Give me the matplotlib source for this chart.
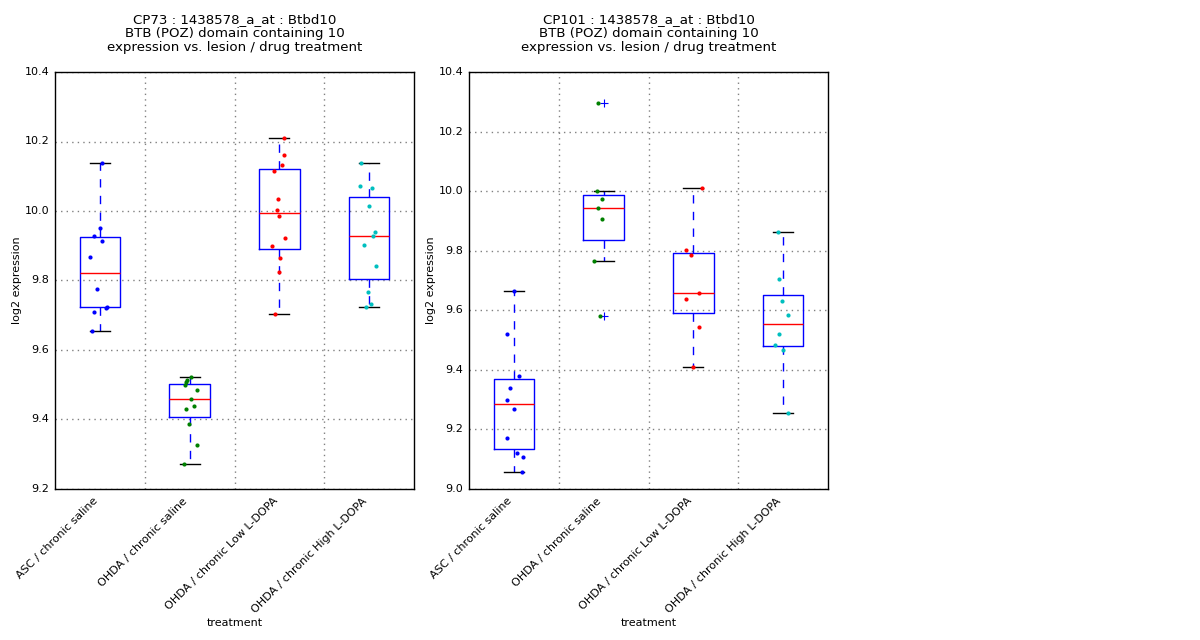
import matplotlib
matplotlib.use("Agg")
import matplotlib.pyplot as plt

treatments = ["ASC / chronic saline", "OHDA / chronic saline",
              "OHDA / chronic Low L-DOPA", "OHDA / chronic High L-DOPA"]
dot_colors = ["b", "g", "r", "c"]

# CP73 values and horizontal jitter of each dot
cp73_asc = [10.138, 9.951, 9.928, 9.913, 9.867, 9.775, 9.724, 9.722, 9.709, 9.656]
cp73_asc_jit = [0.019, 0.004, -0.070, 0.019, -0.108, -0.030, 0.074, 0.070, -0.070, -0.085]
cp73_sal = [9.523, 9.515, 9.507, 9.498, 9.484, 9.458, 9.438, 9.429, 9.388, 9.328, 9.273]
cp73_sal_jit = [0.019, -0.033, -0.037, -0.048, 0.086, 0.019, 0.052, -0.037, -0.004, 0.086, -0.059]
cp73_low = [10.210, 10.162, 10.133, 10.115, 10.035, 10.003, 9.986, 9.922, 9.899, 9.864, 9.824, 9.703]
cp73_low_jit = [0.052, 0.052, 0.030, -0.059, -0.019, -0.030, -0.007, 0.059, -0.085, 0.004, -0.007, -0.052]
cp73_high = [10.138, 10.072, 10.065, 10.014, 9.940, 9.928, 9.902, 9.841, 9.766, 9.732, 9.723]
cp73_high_jit = [-0.093, -0.104, 0.030, -0.004, 0.063, 0.041, -0.059, 0.074, -0.015, 0.019, -0.037]

# CP101
cp101_asc = [9.666, 9.522, 9.378, 9.338, 9.300, 9.270, 9.172, 9.122, 9.106, 9.058]
cp101_asc_jit = [0.0, -0.080, 0.054, -0.047, -0.080, 0.0, -0.080, 0.031, 0.098, 0.087]
cp101_sal = [10.296, 10.002, 9.972, 9.945, 9.908, 9.766, 9.582]
cp101_sal_jit = [-0.063, -0.074, -0.019, -0.063, -0.019, -0.108, -0.041]
cp101_low = [10.011, 9.801, 9.785, 9.657, 9.637, 9.543, 9.410]
cp101_low_jit = [0.093, -0.085, -0.030, 0.059, -0.085, 0.059, -0.007]
cp101_high = [9.864, 9.706, 9.632, 9.585, 9.521, 9.484, 9.467, 9.254]
cp101_high_jit = [-0.059, -0.048, -0.015, 0.052, -0.048, -0.093, -0.004, 0.052]

panels = [
    ("CP73", [cp73_asc, cp73_sal, cp73_low, cp73_high],
     [cp73_asc_jit, cp73_sal_jit, cp73_low_jit, cp73_high_jit], (9.2, 10.4)),
    ("CP101", [cp101_asc, cp101_sal, cp101_low, cp101_high],
     [cp101_asc_jit, cp101_sal_jit, cp101_low_jit, cp101_high_jit], (9.0, 10.4)),
]

plt.style.use("classic")
plt.rcParams["font.family"] = ["DejaVu Sans"]
plt.rcParams["figure.facecolor"] = "white"
plt.rcParams["savefig.facecolor"] = "white"

fig = plt.figure(figsize=(12, 6.4), dpi=100)
lefts = [55 / 1200, 469 / 1200]

for (name, groups, jits, ylim), left in zip(panels, lefts):
    ax = fig.add_axes([left, 151 / 640, 359 / 1200, 417 / 640])
    pos = [1, 2, 3, 4]
    ax.boxplot(groups, positions=pos, widths=0.45,
               flierprops=dict(marker="+", markeredgecolor="b", markerfacecolor="none",
                               markersize=6, markeredgewidth=0.8))
    for p, vals, jit, col in zip(pos, groups, jits, dot_colors):
        xs = [p + j for j in jit]
        ax.plot(xs, vals, ".", color=col, markersize=6, markeredgewidth=0, zorder=5)

    ax.set_xlim(0.5, 4.5)
    ax.set_ylim(*ylim)
    ax.set_yticks([round(ylim[0] + 0.2 * i, 1) for i in range(int(round((ylim[1] - ylim[0]) / 0.2)) + 1)])
    ax.set_xticks(pos)
    ax.set_xticklabels(treatments, rotation=45, ha="right", fontsize=8)
    ax.set_xticks([1.5, 2.5, 3.5], minor=True)
    ax.tick_params(axis="both", which="both", length=0, labelsize=8)
    ax.tick_params(axis="x", pad=5)
    ax.grid(False)
    ax.grid(True, axis="y", which="major", color="gray", linestyle=":", linewidth=1)
    ax.grid(True, axis="x", which="minor", color="gray", linestyle=":", linewidth=1)
    ax.set_axisbelow(True)

    ax.set_ylabel("log2 expression", fontsize=8, labelpad=2)
    ax.set_xlabel("treatment", fontsize=8, labelpad=2)
    ax.set_title(name + " : 1438578_a_at : Btbd10\nBTB (POZ) domain containing 10\n"
                 "expression vs. lesion / drug treatment",
                 fontsize=9.6, linespacing=1.1, pad=15)

plt.savefig("out.png", dpi=100)
